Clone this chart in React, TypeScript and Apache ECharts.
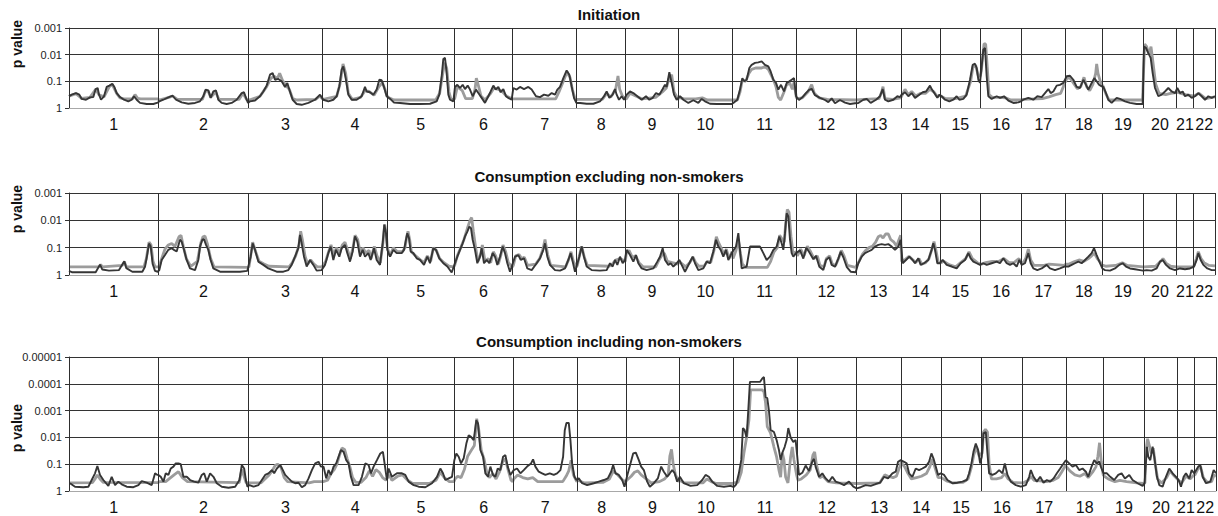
import React, { useEffect, useRef } from "react";
import * as echarts from "echarts";

// Chromosome names and (estimated) genetic map lengths in cM
const chromosomes = ["1","2","3","4","5","6","7","8","9","10","11","12","13","14","15","16","17","18","19","20","21","22"];
const chromLengthsCM = [268, 270, 222, 195, 200, 176, 192, 147, 158, 162, 193, 178, 135, 117, 122, 123, 130, 113, 122, 100, 50, 65];

// y tick labels (p value per decade of -log10 p)
const pValueLabels = ["1", "0.1", "0.01", "0.001", "0.0001", "0.00001"];
const panelTitles = ["Initiation", "Consumption excluding non-smokers", "Consumption including non-smokers"];

// Series: [genome position cM, -log10(p)]
const initiationDark = [
[0,0.44],[8,0.5],[21,0.56],[31,0.5],[38,0.34],[51,0.31],[63,0.4],[73,0.41],[80,0.71],[86,0.75],[90,0.5],[96,0.31],[105,0.44],[113,0.79],[121,0.84],[130,0.91],[136,0.79],[143,0.56],[153,0.41],[165,0.31],[178,0.25],[188,0.31],[195,0.44],[203,0.31],[213,0.19],[233,0.15],[253,0.15],[266,0.2],
[271,0.25],[283,0.31],[298,0.4],[311,0.46],[321,0.31],[338,0.21],[358,0.16],[378,0.19],[393,0.25],[403,0.44],[410,0.69],[418,0.66],[425,0.38],[433,0.62],[441,0.66],[448,0.31],[458,0.19],[473,0.15],[488,0.19],[503,0.31],[518,0.56],[525,0.59],[533,0.31],[537,0.19],
[543,0.25],[558,0.28],[573,0.44],[583,0.62],[593,0.84],[603,1.25],[611,1.31],[618,1.06],[628,1.09],[638,1.0],[648,0.79],[655,0.94],[661,0.69],[671,0.31],[683,0.15],[698,0.12],[718,0.19],[738,0.31],[753,0.5],[759,0.38],
[763,0.31],[778,0.25],[793,0.31],[803,0.44],[811,0.81],[818,1.44],[823,1.56],[830,1.12],[838,0.5],[848,0.31],[863,0.31],[878,0.44],[888,0.79],[893,0.62],[903,0.59],[913,0.5],[923,0.69],[931,1.06],[938,1.04],[945,0.79],[953,0.44],
[963,0.35],[975,0.2],[993,0.19],[1023,0.15],[1053,0.15],[1083,0.16],[1103,0.25],[1111,0.5],[1118,1.19],[1123,1.84],[1128,1.88],[1133,1.31],[1138,0.5],[1143,0.31],[1153,0.25],
[1158,0.79],[1165,0.87],[1173,0.75],[1181,0.87],[1188,0.71],[1196,0.84],[1203,0.69],[1211,0.44],[1221,0.69],[1228,0.56],[1238,0.38],[1248,0.19],[1258,0.44],[1265,0.62],[1273,0.84],[1280,0.69],[1288,0.79],[1295,0.59],[1303,0.71],[1311,0.44],[1318,0.38],[1328,0.31],
[1333,0.75],[1343,0.69],[1353,0.79],[1365,0.71],[1378,0.79],[1388,0.69],[1401,0.44],[1413,0.41],[1425,0.5],[1438,0.46],[1448,0.56],[1458,0.5],[1465,0.69],[1473,0.79],[1483,1.12],[1493,1.41],[1501,1.25],[1508,0.81],[1515,0.38],[1522,0.19],
[1533,0.19],[1553,0.16],[1573,0.16],[1593,0.25],[1605,0.44],[1613,0.62],[1621,0.38],[1631,0.5],[1638,0.71],[1643,0.5],[1650,0.31],[1658,0.44],[1665,0.31],
[1673,0.5],[1683,0.62],[1693,0.56],[1705,0.44],[1718,0.31],[1731,0.44],[1741,0.31],[1751,0.38],[1761,0.56],[1771,0.5],[1781,0.71],[1788,0.87],[1793,0.79],[1801,1.34],[1808,0.94],[1815,0.5],[1823,0.31],
[1833,0.44],[1843,0.31],[1858,0.19],[1873,0.29],[1888,0.19],[1898,0.34],[1908,0.25],[1923,0.16],[1943,0.15],[1968,0.15],[1988,0.15],
[1993,0.19],[2005,0.31],[2013,0.69],[2020,1.12],[2026,1.0],[2033,1.06],[2041,1.5],[2048,1.62],[2058,1.69],[2068,1.71],[2078,1.75],[2088,1.62],[2098,1.56],[2105,1.37],[2113,1.06],[2121,0.94],[2128,0.69],[2136,0.87],[2145,0.62],[2153,0.94],[2161,1.0],[2168,1.06],[2175,1.12],[2181,0.44],
[2190,0.3],[2200,0.4],[2210,0.55],[2220,0.68],[2228,0.72],[2238,0.48],[2253,0.38],[2268,0.3],[2278,0.22],[2288,0.36],[2298,0.18],[2313,0.3],[2328,0.2],[2343,0.15],[2358,0.18],
[2368,0.19],[2383,0.31],[2393,0.34],[2405,0.19],[2421,0.31],[2433,0.44],[2441,0.71],[2448,0.31],[2458,0.25],[2473,0.31],[2485,0.44],[2493,0.41],
[2498,0.5],[2508,0.59],[2518,0.44],[2528,0.56],[2538,0.38],[2551,0.5],[2561,0.59],[2571,0.62],[2583,0.84],[2588,0.71],[2596,0.56],[2605,0.38],[2611,0.5],
[2618,0.44],[2628,0.31],[2641,0.25],[2653,0.31],[2663,0.44],[2671,0.31],[2683,0.34],[2693,0.5],[2703,1.06],[2711,1.62],[2718,1.66],[2723,1.5],[2728,1.06],[2733,0.94],
[2738,1.56],[2743,2.19],[2748,2.25],[2753,1.19],[2758,0.44],[2768,0.34],[2783,0.44],[2793,0.38],[2805,0.44],[2818,0.28],[2833,0.19],[2848,0.21],[2856,0.25],
[2863,0.31],[2878,0.38],[2893,0.31],[2905,0.44],[2918,0.41],[2928,0.56],[2938,0.71],[2945,0.56],[2953,0.62],[2963,0.84],[2973,0.87],[2983,0.94],
[2993,1.19],[3003,1.21],[3013,1.06],[3023,0.79],[3033,0.75],[3043,1.06],[3051,0.87],[3058,0.69],[3068,0.94],[3076,1.12],[3083,1.0],[3090,0.87],[3098,0.81],
[3103,0.79],[3111,0.56],[3118,0.31],[3128,0.19],[3143,0.38],[3153,0.34],[3168,0.25],[3183,0.19],[3203,0.15],[3221,0.15],
[3225,2.31],[3231,2.25],[3238,2.06],[3245,1.88],[3251,1.31],[3258,0.75],[3268,0.44],[3278,0.5],[3288,0.62],[3298,0.75],[3308,0.62],[3318,0.56],
[3325,0.75],[3333,0.56],[3341,0.62],[3348,0.44],[3358,0.5],[3368,0.38],
[3378,0.44],[3388,0.56],[3398,0.44],[3408,0.31],[3418,0.44],[3428,0.38],[3438,0.44]
];

const initiationLight = [
[0,0.44],[21,0.54],[38,0.36],[63,0.4],[80,0.7],[90,0.5],[105,0.42],[121,0.8],[130,0.88],[143,0.55],[153,0.38],[165,0.34],[190,0.34],[198,0.5],[206,0.36],[215,0.34],[266,0.34],
[270,0.3],[300,0.4],[311,0.45],[325,0.32],[400,0.32],[410,0.66],[418,0.62],[425,0.4],[440,0.6],[450,0.32],[510,0.32],[522,0.55],[533,0.32],[537,0.3],
[541,0.3],[573,0.44],[593,0.8],[605,1.1],[615,1.2],[625,1.1],[632,1.3],[640,1.05],[650,0.85],[661,0.7],[671,0.35],[683,0.3],[740,0.32],[753,0.45],[759,0.36],
[763,0.32],[803,0.44],[813,0.9],[822,1.65],[830,1.3],[838,0.55],[850,0.32],[875,0.4],[888,0.65],[900,0.62],[915,0.48],[930,0.8],[940,0.95],[948,0.7],[954,0.45],
[960,0.38],[975,0.3],[1100,0.3],[1112,0.55],[1120,1.2],[1127,1.7],[1133,1.5],[1140,0.6],[1146,0.32],[1154,0.32],
[1157,0.35],[1165,0.8],[1180,0.65],[1190,0.35],[1210,0.35],[1218,0.7],[1222,1.12],[1228,0.85],[1236,0.45],[1248,0.3],[1265,0.55],[1275,0.75],[1288,0.7],[1300,0.62],[1312,0.45],[1330,0.34],
[1333,0.34],[1460,0.34],[1470,0.6],[1483,1.0],[1494,1.35],[1503,1.15],[1510,0.7],[1518,0.35],[1522,0.3],
[1525,0.32],[1600,0.32],[1613,0.55],[1625,0.4],[1640,0.7],[1647,1.2],[1652,0.7],[1660,0.45],[1669,0.35],
[1672,0.34],[1683,0.55],[1700,0.45],[1720,0.34],[1760,0.4],[1780,0.6],[1792,0.75],[1800,1.1],[1808,1.25],[1815,0.6],[1827,0.34],
[1830,0.4],[1845,0.34],[1880,0.34],[1900,0.38],[1915,0.3],[1988,0.3],
[1993,0.3],[2005,0.3],[2013,0.6],[2020,1.05],[2030,1.0],[2040,1.3],[2048,1.45],[2060,1.5],[2078,1.5],[2088,1.55],[2098,1.45],[2108,1.2],[2115,1.0],[2121,0.8],[2128,0.4],[2135,0.3],[2145,0.6],[2152,0.85],[2162,0.95],[2170,0.7],[2175,0.95],[2182,0.4],
[2185,0.35],[2200,0.38],[2218,0.62],[2228,0.88],[2236,0.55],[2250,0.38],[2275,0.32],[2360,0.3],
[2363,0.3],[2385,0.32],[2430,0.35],[2438,0.6],[2442,0.8],[2448,0.35],[2470,0.32],[2495,0.38],
[2498,0.45],[2508,0.7],[2518,0.5],[2528,0.62],[2540,0.45],[2555,0.55],[2570,0.55],[2583,0.7],[2595,0.6],[2605,0.42],[2612,0.48],
[2615,0.45],[2630,0.35],[2660,0.35],[2690,0.45],[2705,1.0],[2712,1.55],[2720,1.6],[2728,1.2],[2734,1.2],
[2737,1.4],[2741,1.9],[2745,2.4],[2750,2.4],[2755,1.5],[2760,0.5],[2770,0.4],[2790,0.4],[2810,0.38],[2825,0.3],[2857,0.3],
[2860,0.32],[2900,0.34],[2920,0.35],[2940,0.42],[2960,0.5],[2975,0.55],[2983,0.8],[2987,0.95],
[2990,1.0],[2995,1.15],[3005,1.1],[3015,0.9],[3025,0.72],[3035,0.8],[3045,1.15],[3053,0.8],[3062,0.65],[3072,0.9],[3080,1.3],[3083,1.65],[3087,1.3],[3095,0.95],[3100,0.85],
[3103,0.8],[3110,0.55],[3120,0.3],[3221,0.3],
[3224,1.5],[3227,2.4],[3233,2.3],[3240,2.0],[3246,2.3],[3252,1.7],[3260,0.9],[3270,0.55],[3290,0.5],[3305,0.55],[3322,0.58],
[3325,0.6],[3335,0.55],[3350,0.5],[3372,0.45],
[3375,0.45],[3390,0.55],[3410,0.35],[3438,0.42]
];

const exclusionDark = [
[0,0.15],[10,0.1],[80,0.1],[93,0.38],[100,0.2],[120,0.16],[150,0.18],[160,0.38],[166,0.5],[172,0.25],[190,0.12],[220,0.12],[228,0.3],[234,0.7],[240,1.15],[245,1.05],[251,0.4],[258,0.15],[266,0.12],
[271,0.18],[278,0.55],[288,0.73],[298,0.92],[308,0.98],[315,0.92],[323,0.86],[333,1.29],[338,1.22],[345,0.92],[353,0.55],[363,0.24],[378,0.18],[388,0.55],[393,1.04],[400,1.29],[405,1.31],[411,1.1],[418,0.92],[425,0.55],[433,0.24],[453,0.12],[483,0.12],[513,0.12],[535,0.15],
[545,0.67],[551,1.16],[558,0.92],[568,0.49],[583,0.37],[598,0.24],[623,0.12],[643,0.12],[658,0.18],[668,0.37],[678,0.67],[688,0.98],[693,1.47],[698,1.16],[705,0.67],[713,0.31],[723,0.55],[733,0.37],[743,0.16],[758,0.18],
[768,0.37],[778,0.8],[785,1.04],[793,0.55],[801,0.92],[811,0.67],[818,0.98],[828,1.1],[835,0.8],[843,0.49],[851,0.86],[858,1.41],[865,1.22],[873,0.67],[881,0.92],[888,0.67],[898,0.8],[905,0.55],[915,0.98],[923,0.55],[933,0.37],[941,1.16],[946,1.84],[951,1.53],[955,0.92],
[963,0.67],[973,0.92],[983,0.8],[998,0.8],[1005,0.92],[1011,1.29],[1015,1.53],[1020,1.35],[1025,0.86],[1033,0.8],[1043,0.61],[1053,0.55],[1065,0.37],[1075,0.67],[1083,0.43],[1093,0.98],[1101,0.92],[1111,0.61],[1123,0.43],[1135,0.31],[1148,0.09],
[1158,0.43],[1165,0.67],[1173,0.92],[1181,1.16],[1188,1.41],[1195,1.59],[1201,1.77],[1206,1.71],[1211,1.29],[1218,0.92],[1225,0.43],[1233,0.67],[1238,0.98],[1245,0.43],[1253,0.55],[1261,0.43],[1271,0.8],[1278,0.67],[1285,0.37],[1293,0.67],[1301,1.04],[1308,0.8],[1315,0.43],[1323,0.12],
[1338,0.67],[1348,0.73],[1355,0.55],[1365,0.61],[1375,0.24],[1388,0.18],[1403,0.43],[1413,0.61],[1423,0.92],[1428,1.16],[1435,0.67],[1443,0.37],[1458,0.18],[1473,0.16],[1488,0.24],[1498,0.55],[1505,0.8],[1511,0.49],[1518,0.12],
[1531,0.67],[1538,1.04],[1545,0.67],[1553,0.31],[1568,0.18],[1593,0.16],[1613,0.18],[1623,0.43],[1631,0.31],[1638,0.55],[1645,0.37],[1653,0.67],[1661,0.43],[1668,0.55],
[1673,0.92],[1683,0.73],[1693,0.49],[1701,0.73],[1708,0.43],[1718,0.24],[1733,0.18],[1753,0.24],[1765,0.49],[1773,0.67],[1781,0.98],[1788,0.55],[1798,0.37],[1805,0.43],[1813,0.31],[1823,0.43],
[1831,0.55],[1838,0.37],[1848,0.12],[1861,0.43],[1871,0.67],[1878,0.43],[1888,0.18],[1903,0.24],[1913,0.49],[1923,0.43],[1933,0.86],[1941,1.29],[1948,1.04],[1955,0.92],[1963,0.67],[1971,0.92],[1978,0.55],[1988,0.8],
[2001,1.04],[2008,1.53],[2013,0.92],[2018,0.24],[2033,0.31],[2043,1.04],[2058,1.04],[2073,1.04],[2083,0.8],[2093,0.55],[2103,0.67],[2113,0.92],[2123,1.04],[2131,1.41],[2138,1.16],[2143,0.92],[2148,1.53],[2153,2.26],[2158,2.14],[2163,1.29],[2168,0.8],[2173,0.67],[2181,0.8],
[2193,0.9],[2203,0.6],[2212,1.0],[2220,0.85],[2233,0.58],[2241,0.7],[2251,0.3],[2263,0.18],[2271,0.55],[2281,0.65],[2288,0.37],[2298,0.3],[2308,0.6],[2315,0.85],[2323,0.65],[2333,0.3],[2345,0.12],[2360,0.1],
[2368,0.43],[2378,0.67],[2388,0.8],[2398,0.86],[2408,0.92],[2418,1.04],[2428,1.1],[2438,1.13],[2448,1.1],[2458,1.13],[2468,1.04],[2478,0.92],[2488,1.04],[2495,1.29],
[2501,0.43],[2511,0.55],[2521,0.67],[2531,0.55],[2538,0.43],[2548,0.61],[2555,0.37],[2565,0.43],[2578,0.55],[2588,0.92],[2593,1.16],[2598,0.92],[2605,0.43],[2613,0.43],
[2621,0.55],[2633,0.37],[2648,0.31],[2663,0.24],[2675,0.43],[2688,0.55],[2698,0.8],[2705,0.61],[2713,0.49],[2723,0.43],[2733,0.37],
[2743,0.43],[2753,0.37],[2768,0.43],[2783,0.49],[2793,0.43],[2803,0.61],[2813,0.43],[2823,0.37],[2833,0.43],[2843,0.31],[2851,0.55],[2858,0.37],
[2868,0.43],[2878,0.8],[2885,0.43],[2893,0.24],[2905,0.18],[2918,0.24],[2933,0.37],[2943,0.24],[2958,0.18],[2973,0.24],[2986,0.31],
[2998,0.31],[3008,0.37],[3018,0.43],[3028,0.49],[3038,0.43],[3048,0.55],[3058,0.67],[3068,0.8],[3075,0.98],[3083,0.73],[3091,0.49],[3100,0.24],
[3108,0.18],[3123,0.16],[3138,0.24],[3151,0.37],[3161,0.43],[3171,0.31],[3183,0.24],[3198,0.21],[3213,0.18],[3222,0.16],
[3233,0.18],[3248,0.16],[3263,0.24],[3273,0.49],[3281,0.55],[3291,0.37],[3303,0.24],[3318,0.18],
[3333,0.24],[3348,0.21],[3363,0.24],[3375,0.31],
[3383,0.55],[3388,0.8],[3395,0.55],[3403,0.37],[3415,0.24],[3428,0.18],[3438,0.18]
];

const exclusionLight = [
[0,0.3],[90,0.3],[95,0.38],[100,0.3],[160,0.35],[166,0.48],[172,0.3],[225,0.3],[232,0.6],[240,1.2],[246,1.1],[252,0.5],[258,0.3],[267,0.3],
[270,0.3],[278,0.6],[288,0.95],[298,1.1],[308,1.15],[318,1.05],[330,1.4],[336,1.45],[343,1.05],[352,0.6],[365,0.32],[385,0.5],[395,1.15],[402,1.4],[408,1.42],[415,1.15],[425,0.6],[435,0.3],[537,0.28],
[540,0.3],[545,0.7],[551,1.2],[560,0.85],[570,0.5],[585,0.4],[600,0.32],[660,0.3],[670,0.45],[680,0.7],[690,1.1],[695,1.6],[700,1.3],[708,0.7],[716,0.4],[725,0.55],[735,0.4],[745,0.3],[759,0.3],
[762,0.35],[770,0.5],[780,0.9],[786,1.1],[794,0.7],[802,1.0],[812,0.8],[820,1.1],[828,1.2],[836,0.9],[844,0.6],[852,1.0],[858,1.45],[866,1.3],[874,0.8],[882,1.0],[890,0.8],[900,0.9],[906,0.6],[916,1.05],[924,0.7],[934,0.45],[942,1.2],[947,1.85],[952,1.5],[955,1.0],
[963,0.7],[973,1.0],[985,0.85],[1000,0.85],[1008,1.0],[1013,1.4],[1017,1.6],[1022,1.3],[1027,0.85],[1040,0.7],[1055,0.55],[1065,0.45],[1075,0.7],[1085,0.5],[1093,1.0],[1102,0.9],[1112,0.6],[1125,0.45],[1140,0.32],[1154,0.3],
[1157,0.35],[1165,0.7],[1175,1.0],[1185,1.3],[1195,1.7],[1203,2.0],[1208,2.1],[1213,1.6],[1220,1.0],[1227,0.5],[1235,0.75],[1240,1.1],[1248,0.5],[1258,0.6],[1265,0.45],[1273,0.85],[1280,0.7],[1288,0.4],[1296,0.75],[1302,1.1],[1310,0.85],[1318,0.45],[1330,0.3],
[1333,0.35],[1340,0.7],[1350,0.75],[1358,0.6],[1366,0.65],[1376,0.35],[1400,0.4],[1412,0.6],[1422,0.95],[1428,1.3],[1436,0.75],[1445,0.35],[1490,0.3],[1500,0.6],[1506,0.85],[1513,0.5],[1522,0.3],
[1525,0.35],[1531,0.7],[1538,1.05],[1546,0.65],[1555,0.35],[1620,0.32],[1630,0.4],[1640,0.55],[1653,0.6],[1669,0.5],
[1672,0.8],[1680,0.9],[1690,0.65],[1700,0.7],[1710,0.45],[1722,0.3],[1760,0.3],[1770,0.55],[1780,0.75],[1786,0.8],[1795,0.5],[1810,0.45],[1827,0.4],
[1830,0.5],[1840,0.4],[1850,0.3],[1862,0.45],[1872,0.65],[1880,0.45],[1890,0.32],[1905,0.32],[1915,0.5],[1925,0.45],[1935,0.9],[1942,1.4],[1948,1.2],[1956,1.0],[1965,0.75],[1972,0.95],[1980,0.6],[1989,0.85],
[1992,0.6],[2001,0.9],[2008,1.3],[2014,0.8],[2020,0.4],[2030,0.28],[2050,0.28],[2095,0.28],[2105,0.5],[2115,0.85],[2125,1.0],[2132,1.45],[2140,1.3],[2146,1.2],[2150,1.9],[2155,2.4],[2160,2.3],[2166,1.4],[2172,0.8],[2182,0.85],
[2185,0.7],[2195,0.95],[2205,0.7],[2215,1.05],[2225,0.85],[2235,0.6],[2245,0.7],[2253,0.35],[2265,0.3],[2272,0.6],[2282,0.7],[2290,0.4],[2300,0.35],[2310,0.65],[2317,0.9],[2325,0.7],[2335,0.35],[2360,0.28],
[2363,0.35],[2370,0.5],[2380,0.75],[2390,0.9],[2400,1.0],[2410,1.05],[2420,1.2],[2428,1.4],[2435,1.45],[2442,1.35],[2450,1.5],[2458,1.5],[2465,1.3],[2475,1.2],[2483,1.05],[2490,1.3],[2495,1.45],
[2498,0.5],[2510,0.58],[2520,0.68],[2532,0.55],[2540,0.45],[2550,0.6],[2558,0.4],[2570,0.45],[2580,0.6],[2590,1.0],[2595,1.22],[2600,0.95],[2608,0.45],[2613,0.45],
[2616,0.45],[2625,0.5],[2640,0.38],[2660,0.3],[2675,0.45],[2690,0.6],[2700,0.85],[2710,0.6],[2725,0.45],[2734,0.4],
[2737,0.4],[2750,0.45],[2770,0.5],[2790,0.5],[2805,0.6],[2820,0.45],[2835,0.45],[2850,0.6],[2857,0.45],
[2860,0.4],[2870,0.6],[2878,0.95],[2885,0.55],[2895,0.35],[2925,0.35],[2940,0.4],[2987,0.35],
[2990,0.4],[3000,0.4],[3015,0.48],[3030,0.55],[3045,0.5],[3058,0.6],[3068,0.7],[3076,0.8],[3085,0.6],[3095,0.45],[3100,0.35],
[3103,0.35],[3110,0.32],[3140,0.35],[3160,0.45],[3175,0.35],[3222,0.3],
[3225,0.3],[3260,0.32],[3275,0.5],[3282,0.6],[3292,0.42],[3305,0.32],[3322,0.3],
[3325,0.3],[3372,0.3],
[3375,0.35],[3382,0.6],[3388,0.85],[3396,0.6],[3405,0.45],[3420,0.35],[3438,0.33]
];

const inclusionDark = [
[3,0.29],[18,0.16],[43,0.14],[58,0.16],[68,0.41],[78,0.66],[85,0.93],[93,0.6],[103,0.41],[111,0.29],[118,0.19],[128,0.53],[138,0.22],[148,0.35],[158,0.25],[173,0.16],[193,0.14],[208,0.22],[218,0.37],[233,0.31],[248,0.22],[258,0.66],[265,0.6],
[268,0.6],[275,0.53],[283,0.35],[290,0.66],[298,0.6],[305,0.84],[313,0.91],[320,1.03],[328,1.03],[335,1.0],[343,0.53],[353,0.53],[363,0.41],[375,0.35],[388,0.31],[398,0.6],[405,0.66],[413,0.35],[423,0.66],[433,0.53],[443,0.29],[458,0.16],[478,0.12],[498,0.16],[511,0.41],[518,0.97],[525,0.84],[531,0.35],[535,0.16],
[541,0.22],[553,0.16],[568,0.22],[578,0.41],[588,0.6],[598,0.66],[608,0.78],[615,0.66],[623,0.84],[633,0.97],[641,0.78],[648,0.6],[658,0.47],[668,0.35],[678,0.29],[688,0.31],[698,0.14],[708,0.22],[718,0.47],[728,0.78],[738,1.03],[748,1.09],[755,0.91],
[763,0.91],[771,0.47],[778,0.78],[785,0.6],[793,0.91],[801,1.03],[808,1.28],[815,1.53],[823,1.46],[831,1.15],[838,1.03],[845,0.53],[853,0.22],[868,0.22],[878,0.53],[888,1.03],[898,0.97],[905,0.66],[913,0.91],[923,1.15],[933,1.4],[941,1.46],[948,0.84],[953,0.41],
[958,0.84],[968,0.53],[983,0.66],[998,0.66],[1008,0.6],[1018,0.35],[1033,0.22],[1048,0.16],[1068,0.14],[1088,0.29],[1103,0.53],[1113,0.84],[1121,0.66],[1128,0.41],[1138,0.47],[1148,0.53],
[1155,1.15],[1161,1.4],[1168,1.28],[1175,1.03],[1183,1.22],[1191,1.77],[1198,2.08],[1205,2.02],[1213,1.9],[1221,2.64],[1226,2.52],[1233,1.53],[1241,1.28],[1248,0.66],[1256,0.53],[1263,0.91],[1271,0.6],[1278,0.53],[1285,0.84],[1293,0.78],[1301,1.28],[1308,1.34],[1315,0.91],[1323,0.6],
[1333,0.78],[1343,0.84],[1353,0.66],[1363,0.78],[1373,0.91],[1385,1.03],[1391,1.18],[1398,0.91],[1408,0.72],[1418,0.66],[1428,0.6],[1441,0.66],[1453,0.6],[1463,0.66],[1473,0.78],[1481,1.28],[1486,2.27],[1491,2.54],[1498,2.54],[1503,1.9],[1508,1.03],[1515,0.53],[1521,0.41],
[1528,0.47],[1538,0.29],[1553,0.22],[1573,0.29],[1588,0.35],[1603,0.41],[1615,0.47],[1625,0.72],[1631,0.97],[1638,0.66],[1648,0.6],[1658,0.41],[1665,0.16],
[1675,0.66],[1683,1.03],[1691,1.4],[1699,1.43],[1708,1.15],[1715,0.91],[1723,0.78],[1733,0.35],[1741,0.16],[1753,0.29],[1765,0.47],[1775,0.91],[1783,0.72],[1793,0.53],[1801,0.66],[1808,0.78],[1815,0.68],[1823,0.35],
[1831,0.53],[1843,0.29],[1863,0.19],[1883,0.22],[1898,0.41],[1908,0.6],[1918,0.53],[1928,0.35],[1943,0.19],[1963,0.16],[1983,0.19],
[1993,0.15],[2000,0.25],[2008,0.67],[2015,1.16],[2020,2.35],[2025,2.28],[2031,2.0],[2036,3.0],[2041,4.07],[2058,4.07],[2071,4.07],[2078,4.2],[2083,4.25],[2088,3.5],[2093,3.47],[2098,3.0],[2103,2.28],[2113,2.2],[2121,1.9],[2128,1.53],[2133,1.16],[2138,1.42],[2145,1.64],[2151,1.9],[2156,2.35],[2163,2.0],[2171,1.83],[2178,1.9],[2183,1.27],
[2188,0.6],[2198,0.68],[2208,0.95],[2218,0.75],[2228,1.1],[2233,1.2],[2238,0.9],[2248,0.53],[2258,0.66],[2268,0.47],[2278,0.35],[2288,0.53],[2298,0.35],[2311,0.29],[2323,0.22],[2338,0.35],[2351,0.16],[2361,0.1],
[2373,0.14],[2388,0.22],[2403,0.19],[2418,0.26],[2431,0.31],[2443,0.53],[2455,0.47],[2468,0.66],[2478,0.72],[2485,1.09],[2493,1.15],
[2503,1.09],[2511,1.03],[2518,0.66],[2528,0.53],[2538,0.84],[2548,0.78],[2558,0.84],[2568,0.91],[2578,1.09],[2585,1.4],[2591,1.22],[2598,0.91],[2605,0.6],[2613,0.66],
[2623,0.6],[2633,0.41],[2648,0.29],[2663,0.31],[2678,0.35],[2691,0.41],[2698,0.66],[2705,1.03],[2711,1.46],[2718,1.77],[2725,1.53],[2731,1.03],[2736,1.28],
[2741,2.15],[2748,2.2],[2753,1.4],[2758,0.66],[2768,0.6],[2778,0.66],[2788,0.78],[2798,0.66],[2805,1.03],[2813,0.6],[2823,0.35],[2838,0.22],[2853,0.16],
[2868,0.22],[2878,0.53],[2883,0.78],[2891,0.53],[2901,0.35],[2911,0.53],[2921,0.31],[2931,0.41],[2941,0.35],[2951,0.47],[2961,0.66],[2971,0.84],[2978,0.97],[2988,1.15],
[2998,1.03],[3008,0.91],[3018,0.97],[3028,0.78],[3038,0.84],[3048,0.72],[3055,0.53],[3065,0.91],[3073,1.15],[3081,1.03],[3088,1.1],[3093,0.9],[3101,0.66],
[3111,0.66],[3121,0.53],[3133,0.41],[3145,0.6],[3155,0.66],[3165,0.47],[3178,0.6],[3188,0.41],[3203,0.29],[3218,0.19],
[3224,0.3],[3231,1.65],[3235,1.28],[3241,1.15],[3248,1.65],[3253,1.28],[3261,0.53],[3268,0.22],[3278,0.16],[3288,0.53],[3298,0.84],[3308,0.66],[3318,0.53],[3326,0.41],
[3333,0.16],[3341,0.53],[3348,0.66],[3358,0.47],[3365,0.78],[3373,0.66],
[3385,0.91],[3391,0.97],[3398,0.53],[3408,0.29],[3421,0.35],[3431,0.78],[3438,0.66]
];

const inclusionLight = [
[0,0.3],[70,0.31],[78,0.45],[85,0.6],[93,0.45],[103,0.32],[267,0.31],
[270,0.35],[290,0.35],[300,0.45],[315,0.6],[328,0.72],[340,0.5],[355,0.35],[510,0.31],[518,0.8],[526,0.5],[531,0.31],[537,0.31],
[540,0.3],[575,0.3],[585,0.42],[600,0.6],[610,0.78],[618,0.95],[625,1.0],[635,0.9],[645,0.5],[655,0.35],[720,0.3],[735,0.35],[759,0.35],
[762,0.35],[775,0.4],[785,0.65],[795,0.8],[803,1.0],[810,1.3],[818,1.6],[826,1.55],[834,1.2],[842,0.9],[850,0.5],[860,0.32],[875,0.32],[890,0.5],[900,0.75],[910,0.55],[920,0.8],[930,0.7],[940,0.5],[950,0.4],[955,0.5],
[960,0.6],[968,0.4],[985,0.55],[1000,0.6],[1015,0.4],[1030,0.28],[1080,0.28],[1100,0.4],[1113,0.7],[1125,0.5],[1140,0.35],[1154,0.35],
[1157,0.45],[1165,0.55],[1175,0.5],[1185,0.8],[1195,1.3],[1205,1.5],[1215,1.7],[1222,2.7],[1228,2.3],[1236,1.5],[1244,1.2],[1252,0.7],[1260,0.5],[1270,0.65],[1280,0.45],[1290,0.7],[1300,1.1],[1308,1.2],[1316,0.8],[1325,0.4],[1330,0.35],
[1333,0.45],[1345,0.6],[1360,0.5],[1375,0.45],[1390,0.5],[1405,0.35],[1480,0.35],[1490,0.55],[1498,0.75],[1505,1.15],[1512,0.6],[1522,0.35],
[1525,0.4],[1545,0.3],[1600,0.32],[1620,0.45],[1632,0.75],[1645,0.6],[1660,0.4],[1669,0.35],
[1672,0.4],[1685,0.55],[1695,0.7],[1705,0.75],[1715,0.6],[1730,0.45],[1745,0.3],[1770,0.35],[1785,0.45],[1796,0.6],[1801,1.3],[1806,1.55],[1811,1.0],[1818,0.6],[1827,0.35],
[1830,0.4],[1845,0.3],[1900,0.3],[1912,0.45],[1925,0.35],[1940,0.28],[1989,0.28],
[1992,0.3],[2005,0.32],[2015,0.7],[2023,1.42],[2031,2.0],[2038,2.65],[2043,3.77],[2060,3.77],[2078,3.77],[2083,3.7],[2088,3.28],[2093,2.4],[2103,2.16],[2113,1.64],[2121,1.27],[2128,0.78],[2133,0.52],[2138,1.42],[2143,1.16],[2148,0.52],[2155,0.3],[2163,1.27],[2168,1.64],[2173,1.16],[2181,0.6],
[2185,0.4],[2195,0.45],[2210,0.6],[2222,0.8],[2230,1.35],[2235,1.46],[2240,1.0],[2250,0.5],[2260,0.55],[2275,0.35],[2300,0.3],[2360,0.28],
[2363,0.28],[2430,0.3],[2445,0.6],[2455,0.55],[2470,0.5],[2480,0.55],[2490,0.9],[2495,1.1],
[2498,1.0],[2505,0.9],[2515,0.65],[2525,0.45],[2540,0.5],[2555,0.55],[2570,0.65],[2580,0.9],[2588,1.2],[2595,0.9],[2605,0.5],[2612,0.5],
[2615,0.5],[2630,0.38],[2650,0.3],[2680,0.32],[2695,0.45],[2705,0.9],[2712,1.35],[2720,1.65],[2728,1.3],[2734,1.4],
[2737,1.4],[2741,2.2],[2747,2.3],[2753,2.2],[2758,1.0],[2765,0.45],[2780,0.45],[2795,0.5],[2805,0.65],[2815,0.45],[2830,0.32],[2857,0.3],
[2860,0.3],[2875,0.4],[2883,0.55],[2892,0.4],[2910,0.38],[2930,0.35],[2950,0.4],[2965,0.5],[2975,0.7],[2987,0.95],
[2990,0.9],[3000,0.75],[3015,0.6],[3030,0.55],[3045,0.65],[3055,0.5],[3068,0.7],[3078,0.9],[3084,1.3],[3089,1.8],[3094,1.1],[3100,0.6],
[3103,0.55],[3115,0.45],[3135,0.35],[3150,0.4],[3170,0.35],[3200,0.3],[3222,0.28],
[3225,0.3],[3228,1.5],[3233,1.95],[3238,1.7],[3244,1.4],[3250,1.6],[3256,1.0],[3263,0.45],[3275,0.3],[3290,0.5],[3300,0.75],[3310,0.6],[3322,0.45],
[3325,0.4],[3335,0.3],[3348,0.55],[3360,0.45],[3372,0.6],
[3375,0.6],[3385,0.85],[3392,0.9],[3400,0.5],[3412,0.32],[3425,0.35],[3432,0.6],[3438,0.55]
];

const FONT = "'Liberation Sans', Arial, sans-serif";

export default function App() {
  const ref = useRef<HTMLDivElement>(null);

  useEffect(() => {
    if (!ref.current) return;
    const chart = echarts.init(ref.current, null, { renderer: "svg" });

    const boundaries: number[] = [0];
    chromLengthsCM.forEach((l) => boundaries.push(boundaries[boundaries.length - 1] + l));
    const total = boundaries[boundaries.length - 1];
    const midpoints = chromLengthsCM.map((l, i) => boundaries[i] + l / 2);

    const panels = [
      { top: 28, height: 80, right: 3, maxDecade: 3, dark: initiationDark, light: initiationLight, titleTop: 7, namePad: [0, 0, 0, 48] },
      { top: 193, height: 82, right: 3, maxDecade: 3, dark: exclusionDark, light: exclusionLight, titleTop: 169, namePad: [0, 0, 0, 50] },
      { top: 357, height: 134, right: 2, maxDecade: 5, dark: inclusionDark, light: inclusionLight, titleTop: 334, namePad: [0, 8, 0, 0] },
    ];

    const option: any = {
      animation: false,
      backgroundColor: "#ffffff",
      title: panels.map((p, i) => ({
        text: panelTitles[i],
        left: "center",
        top: p.titleTop,
        padding: 0,
        textStyle: { fontFamily: FONT, fontSize: 15, fontWeight: "bold", color: "#111" },
      })),
      grid: panels.map((p) => ({
        left: 69, right: p.right, top: p.top, height: p.height,
        containLabel: false, outerBoundsMode: "none",
      })),
      xAxis: panels.map((p, i) => ({
        type: "value",
        gridIndex: i,
        min: 0,
        max: total,
        splitLine: { show: false },
        axisTick: { show: false },
        axisLine: { show: true, onZero: false, lineStyle: { color: "#a8a8a8", width: 1 } },
        axisLabel: {
          customValues: midpoints,
          margin: 8,
          fontFamily: FONT,
          fontSize: 16,
          color: "#111",
          formatter: (v: number) => {
            const idx = midpoints.findIndex((m) => Math.abs(m - v) < 0.01);
            return idx >= 0 ? chromosomes[idx] : "";
          },
        },
      })),
      yAxis: panels.map((p, i) => ({
        type: "value",
        gridIndex: i,
        min: 0,
        max: p.maxDecade,
        interval: 1,
        name: "p value",
        nameLocation: "middle",
        nameRotate: 90,
        nameGap: 45,
        nameMoveOverlap: false,
        nameTextStyle: { fontFamily: FONT, fontSize: 14, fontWeight: "bold", color: "#111", padding: p.namePad },
        axisLine: { show: true, lineStyle: { color: "#333", width: 1 } },
        axisTick: { show: true, inside: false, length: 4, lineStyle: { color: "#333" } },
        splitLine: { show: true, showMinLine: false, lineStyle: { color: "#333", width: 1 } },
        axisLabel: {
          margin: 7,
          fontFamily: FONT,
          fontSize: 11,
          color: "#222",
          formatter: (v: number) => pValueLabels[Math.round(v)] ?? "",
        },
      })),
      series: panels.flatMap((p, i) => [
        {
          type: "line",
          xAxisIndex: i,
          yAxisIndex: i,
          data: p.light,
          symbol: "none",
          silent: true,
          lineStyle: { color: "#9c9c9c", width: 2.8 },
          itemStyle: { color: "#9c9c9c" },
          markLine: {
            silent: true,
            symbol: ["none", "none"],
            label: { show: false },
            lineStyle: { color: "#2e2e2e", width: 1, type: "solid" },
            emphasis: { disabled: true },
            data: boundaries.map((b) => ({ xAxis: b })),
          },
        },
        {
          type: "line",
          xAxisIndex: i,
          yAxisIndex: i,
          data: p.dark,
          symbol: "none",
          silent: true,
          lineStyle: { color: "#363636", width: 1.9 },
          itemStyle: { color: "#363636" },
        },
      ]),
    };

    chart.setOption(option);
    return () => chart.dispose();
  }, []);

  return (
    <div
      ref={ref}
      style={{ position: "absolute", left: 0, top: 0, width: 1218, height: 516, background: "#fff" }}
    />
  );
}
